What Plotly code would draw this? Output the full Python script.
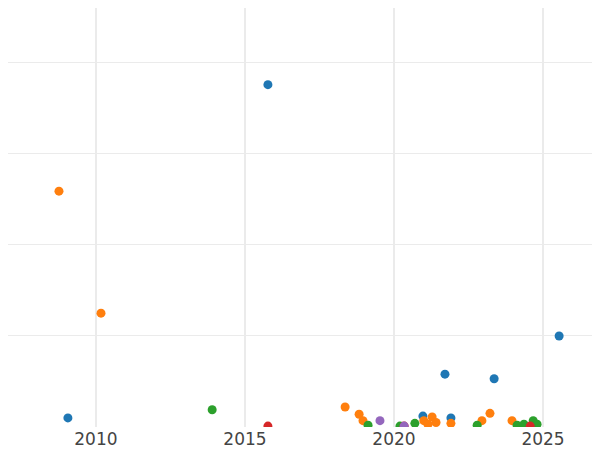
import plotly.graph_objects as go

blue_x = [2009.06, 2015.77, 2025.54, 2021.71, 2023.36, 2020.97, 2021.91]
blue_y = [10, 376, 100, 58, 53, 12, 10]
orange_x = [2008.76, 2010.17, 2018.36, 2018.83, 2018.96, 2021.0, 2021.28, 2021.41, 2021.14, 2021.91, 2022.95, 2023.22, 2023.96]
orange_y = [259, 125, 22, 14, 7, 7, 11, 5, 3, 4, 7, 15, 7]
green_x = [2013.9, 2019.13, 2020.2, 2020.7, 2022.79, 2024.13, 2024.36, 2024.67, 2024.8]
green_y = [19, 2, 1, 4, 2, 2, 3, 7, 3]
red_x = [2015.77, 2020.34, 2024.57]
red_y = [1, 1, 1]
purple_x = [2019.53, 2020.34]
purple_y = [7, 1]

series = [(blue_x, blue_y, "#1f77b4"), (orange_x, orange_y, "#ff7f0e"),
          (green_x, green_y, "#2ca02c"), (red_x, red_y, "#d62728"),
          (purple_x, purple_y, "#9467bd")]

fig = go.Figure()
for xs, ys, c in series:
    fig.add_trace(go.Scatter(x=xs, y=ys, mode="markers",
                             marker=dict(color=c, size=9), showlegend=False))

fig.update_layout(
    width=600, height=450, margin=dict(l=0, r=0, t=0, b=31),
    plot_bgcolor="white", paper_bgcolor="white",
    xaxis=dict(range=[2007.05, 2027.18], tickvals=[2010, 2015, 2020, 2025],
               showgrid=True, gridcolor="#ebebeb", gridwidth=2, zeroline=False,
               tickfont=dict(size=17, color="#444", family="DejaVu Sans"), ticks=""),
    yaxis=dict(range=[0, 460.2], tickvals=[0, 100, 200, 300, 400], showticklabels=False,
               showgrid=True, gridcolor="#ebebeb", gridwidth=1, zeroline=False),
)
fig.write_html("out.html")
